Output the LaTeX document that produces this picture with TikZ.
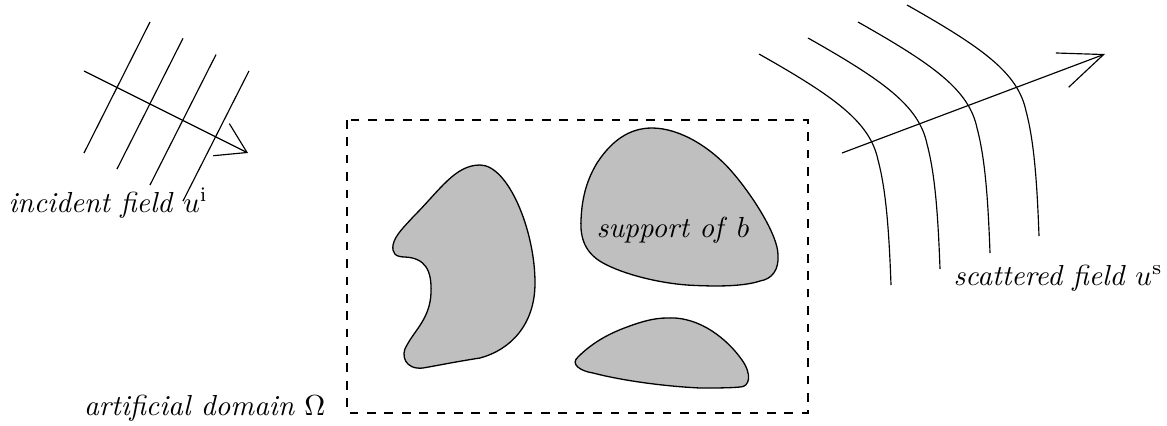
\documentclass[tikz,border=0pt]{standalone}
\usetikzlibrary{arrows.meta}
\begin{document}
\begin{tikzpicture}[x=0.345pt,y=-0.345pt,
  wave/.style={line width=0.4pt},
  scatterer/.style={draw=black,fill=black!25,line width=0.45pt},
  domainbox/.style={dashed,line width=0.4pt},
  caption/.style={inner sep=0pt,font=\normalsize},
  inarrow/.style={-{Straight Barb[angle=64:11.7pt]}},
  outarrow/.style={-{Straight Barb[angle=45:16.5pt]}}]
\useasboundingbox (0,0) rectangle (1167,425);

% incident plane wave: parallel wavefronts and propagation direction
\foreach \i in {0,1,2,3}
  \draw[wave] (150+33*\i,22+16.3*\i) -- (84+33*\i,153+16*\i);
\coordinate (incStart) at (84,71);
\coordinate (incEnd) at (248,153);
\draw[wave,inarrow] (incStart) -- (incEnd);
\node[caption,anchor=base west] (incLabel) at (8,212)
  {\textit{incident field} $u^{\mathrm{i}}$};

% computational domain
\draw[domainbox] (347,120) rectangle (808,413);
\node[caption,anchor=base east] (domLabel) at (326,415)
  {\textit{artificial domain} $\Omega$};

% scatterers
\filldraw[scatterer] (480,165)
  .. controls (508,165) and (535,230) .. (535,283)
  .. controls (535,325) and (510,350) .. (480,358)
  .. controls (460,361) and (440,365) .. (423,368)
  .. controls (405,370) and (400,355) .. (407,345)
  .. controls (415,330) and (430,318) .. (431,293)
  .. controls (432,270) and (425,258) .. (405,257)
  .. controls (395,257) and (392,253) .. (393,245)
  .. controls (395,235) and (405,226) .. (413,217)
  .. controls (440,190) and (455,165) .. cycle;
\filldraw[scatterer] (652,128)
  .. controls (680,128) and (712,148) .. (733,173)
  .. controls (752,195) and (778,235) .. (778,255)
  .. controls (779,270) and (772,279) .. (760,281)
  .. controls (745,286) and (720,287) .. (687,285)
  .. controls (660,283) and (625,275) .. (603,263)
  .. controls (585,253) and (580,238) .. (581,220)
  .. controls (582,195) and (588,178) .. (597,163)
  .. controls (612,140) and (630,128) .. cycle;
\filldraw[scatterer] (667,318)
  .. controls (700,316) and (728,340) .. (742,360)
  .. controls (752,374) and (750,387) .. (740,387)
  .. controls (730,388) and (715,388) .. (700,388)
  .. controls (660,386) and (620,380) .. (593,373)
  .. controls (580,371) and (570,364) .. (578,357)
  .. controls (590,345) and (605,335) .. (627,327)
  .. controls (643,321) and (655,318) .. cycle;
\node[caption] (suppLabel) at (673,230) {\textit{support of} $b$};

% scattered wave: bent wavefronts and outgoing direction
\foreach \dx/\dy in {0/0,49/-16,99/-32,148/-49}
  \draw[wave,shift={(\dx,\dy)}] (759,54)
    .. controls (835,97) and (870,122) .. (878,160)
    .. controls (886,190) and (889,230) .. (891,285);
\coordinate (scaStart) at (842,153);
\coordinate (scaEnd) at (1105,54);
\draw[wave,outarrow] (scaStart) -- (scaEnd);
\node[caption,anchor=base west] (scaLabel) at (953,285)
  {\textit{scattered field} $u^{\mathrm{s}}$};
\end{tikzpicture}
\end{document}
